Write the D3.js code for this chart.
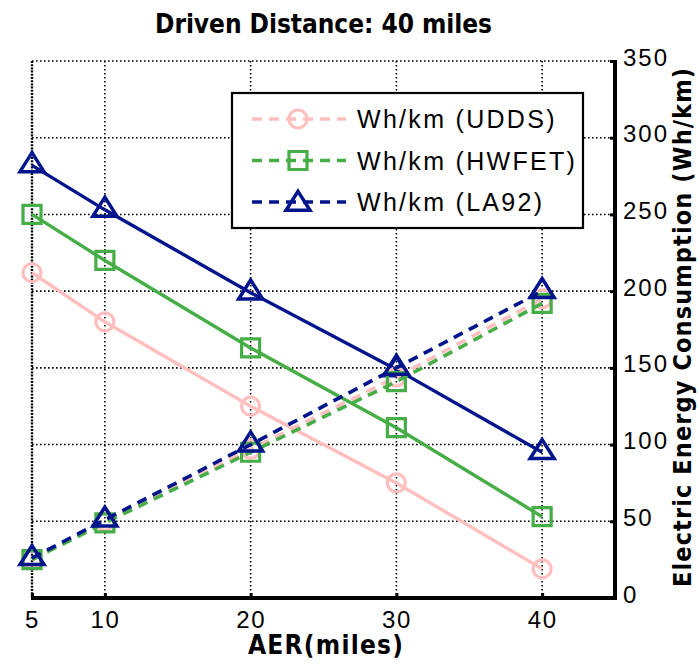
<!DOCTYPE html>
<html>
<head>
<meta charset="utf-8">
<script src="https://cdn.jsdelivr.net/npm/d3@7"></script>
<style>
  body { margin: 0; background: #fff; }
  svg { display: block; }
  text { font-family: "Liberation Sans", Arial, Helvetica, sans-serif; fill: #000; }
</style>
</head>
<body>
<svg id="chart" width="698" height="668"></svg>
<script>
// All-electric range values on the x axis (miles)
const aer = [5, 10, 20, 30, 40];
const xTicks = [5, 10, 20, 30, 40];
const yTicks = [0, 50, 100, 150, 200, 250, 300, 350];

// Decreasing curves (solid lines), one per drive cycle
const fallingUDDS  = [212, 180, 125, 75, 19];
const fallingHWFET = [250, 220, 163, 111, 53];
const fallingLA92  = [282, 253, 199, 149, 95];

// Electric energy consumption, Wh/km (dashed lines)
const whkmUDDS  = [25, 50, 97, 144, 195];
const whkmHWFET = [25, 49, 95, 141, 192];
const whkmLA92  = [26, 51, 100, 150, 200];

const cycleNames  = ["Wh/km (UDDS)", "Wh/km (HWFET)", "Wh/km (LA92)"];
const cycleColors = ["#ffbfbf", "#47ad47", "#00148c"];
const cycleMarks  = ["circle", "square", "triangle"];

const titleText  = "Driven Distance: 40 miles";
const xLabelText = "AER(miles)";
const yLabelText = "Electric Energy Consumption (Wh/km)";

const series = cycleNames.map((name, i) => ({
  name,
  color: cycleColors[i],
  mark: cycleMarks[i],
  falling: [fallingUDDS, fallingHWFET, fallingLA92][i],
  rising: [whkmUDDS, whkmHWFET, whkmLA92][i]
}));

const svg = d3.select("#chart");
const pLeft = 32, pRight = 615, pTop = 61, pBottom = 598;

const x = d3.scaleLinear().domain([5, 45]).range([pLeft, pRight]);
const y = d3.scaleLinear().domain([0, 350]).range([pBottom, pTop]);

// Dotted grid
const grid = svg.append("g");
grid.selectAll("line.v").data(xTicks).join("line")
  .attr("x1", d => x(d)).attr("x2", d => x(d))
  .attr("y1", pTop).attr("y2", pBottom)
  .attr("stroke", "#000")
  .attr("stroke-width", d => d === 5 ? 2.4 : 1.6)
  .attr("stroke-dasharray", d => d === 5 ? "2,1.2" : "1.6,2.4");
grid.selectAll("line.h").data(yTicks.filter(d => d > 0)).join("line")
  .attr("x1", pLeft).attr("x2", pRight)
  .attr("y1", d => y(d)).attr("y2", d => y(d))
  .attr("stroke", "#000").attr("stroke-width", 1.6)
  .attr("stroke-dasharray", "1.6,2.4");

// Axes: bottom x axis and right y axis, ticks pointing inward
const xAxis = d3.axisBottom(x).tickValues(xTicks).tickSizeInner(-5).tickSizeOuter(0).tickPadding(10);
const gx = svg.append("g").attr("transform", `translate(0,${pBottom})`).call(xAxis);
gx.select(".domain").attr("stroke", "#000").attr("stroke-width", 4)
  .attr("d", `M${pLeft - 1},0H${pRight + 2}`);
gx.selectAll(".tick line").attr("stroke", "#000").attr("stroke-width", 3);
gx.selectAll(".tick text")
  .attr("font-size", 24).attr("letter-spacing", 1.5)
  .attr("y", 30).attr("dy", null)
  .style("font-family", '"Liberation Sans", Arial, sans-serif');

const yAxis = d3.axisRight(y).tickValues(yTicks).tickSizeInner(-5).tickSizeOuter(0).tickPadding(6);
const gy = svg.append("g").attr("transform", `translate(${pRight},0)`).call(yAxis);
gy.select(".domain").attr("stroke", "#000").attr("stroke-width", 4)
  .attr("d", `M0,${pTop - 1}V${pBottom + 2}`);
gy.selectAll(".tick line").attr("stroke", "#000").attr("stroke-width", 3);
gy.selectAll(".tick text")
  .attr("font-size", 24).attr("letter-spacing", 2)
  .attr("x", 8).attr("dy", null).attr("y", 4)
  .attr("text-anchor", "start")
  .style("font-family", '"Liberation Sans", Arial, sans-serif');

// Marker shapes, drawn unfilled and centred on the data point
function markerPath(kind) {
  if (kind === "circle") return d3.symbol(d3.symbolCircle, Math.PI * 9 * 9)();
  if (kind === "square") return "M-9,-9H9V9H-9Z";
  const w = 24, h = 19;
  return `M0,${-2 * h / 3}L${w / 2},${h / 3}L${-w / 2},${h / 3}Z`;
}
function drawMarks(g, s, values) {
  g.selectAll("path.mk").data(values.map((v, i) => [aer[i], v])).join("path")
    .attr("class", "mk")
    .attr("d", markerPath(s.mark))
    .attr("transform", d => `translate(${x(d[0])},${y(d[1])})`)
    .attr("fill", "none")
    .attr("stroke", s.color)
    .attr("stroke-width", s.mark === "triangle" ? 3.5 : 3.2)
    .attr("stroke-linejoin", "miter");
}

const line = d3.line().x(d => x(d[0])).y(d => y(d[1]));
const plot = svg.append("g");

// Solid curves
series.forEach(s => {
  const g = plot.append("g");
  g.append("path")
    .datum(s.falling.map((v, i) => [aer[i], v]))
    .attr("d", line).attr("fill", "none")
    .attr("stroke", s.color).attr("stroke-width", 3.4);
  drawMarks(g, s, s.falling);
});

// Dashed Wh/km curves
series.forEach(s => {
  const g = plot.append("g");
  g.append("path")
    .datum(s.rising.map((v, i) => [aer[i], v]))
    .attr("d", line).attr("fill", "none")
    .attr("stroke", s.color).attr("stroke-width", 3.6)
    .attr("stroke-dasharray", "10,7");
  drawMarks(g, s, s.rising);
});

// Legend
const lg = svg.append("g");
lg.append("rect")
  .attr("x", 232).attr("y", 93).attr("width", 351).attr("height", 135)
  .attr("fill", "#fff").attr("stroke", "#000").attr("stroke-width", 2.2);
series.forEach((s, i) => {
  const cy = 119 + i * 41.5;
  const row = lg.append("g").attr("transform", `translate(0,${cy})`);
  row.append("line")
    .attr("x1", 252).attr("x2", 346).attr("y1", 0).attr("y2", 0)
    .attr("stroke", s.color).attr("stroke-width", 3.6)
    .attr("stroke-dasharray", "10,7");
  row.append("path")
    .attr("d", markerPath(s.mark))
    .attr("transform", `translate(298,${s.mark === "triangle" ? 2 : 0})`)
    .attr("fill", "none").attr("stroke", s.color)
    .attr("stroke-width", s.mark === "triangle" ? 3.5 : 3.2);
  row.append("text")
    .attr("x", 357).attr("y", 9)
    .attr("font-size", 25).attr("letter-spacing", 2.3)
    .text(s.name);
});

// Title and axis labels
const boldFont = '"Liberation Sans Narrow", "DejaVu Sans Condensed", "Liberation Sans", Arial, sans-serif';
svg.append("text")
  .attr("x", 155).attr("y", 33)
  .attr("font-size", 26).attr("font-weight", "bold")
  .attr("textLength", 337).attr("lengthAdjust", "spacing")
  .style("font-family", boldFont)
  .text(titleText);

svg.append("text")
  .attr("x", 248).attr("y", 654)
  .attr("font-size", 26).attr("font-weight", "bold")
  .attr("textLength", 155).attr("lengthAdjust", "spacing")
  .style("font-family", boldFont)
  .text(xLabelText);

svg.append("text")
  .attr("transform", "translate(691,587) rotate(-90)")
  .attr("x", 0).attr("y", 0)
  .attr("font-size", 25).attr("font-weight", "bold")
  .attr("textLength", 519).attr("lengthAdjust", "spacing")
  .style("font-family", boldFont)
  .text(yLabelText);
</script>
</body>
</html>
